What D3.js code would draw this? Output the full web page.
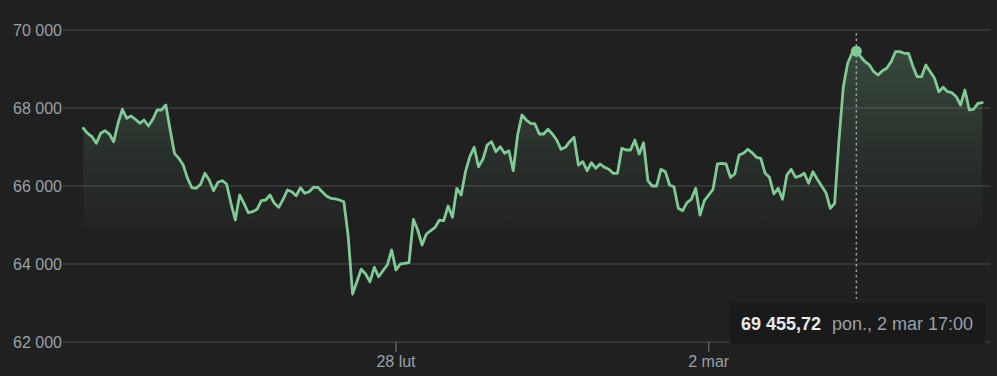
<!DOCTYPE html>
<html><head><meta charset="utf-8">
<script src="https://cdn.jsdelivr.net/npm/d3@7"></script>
<style>
html,body{margin:0;padding:0;background:#202020;}
svg{display:block;}
text{font-family:Arial,"Liberation Sans",sans-serif;}
</style></head>
<body>
<svg id="chart" width="997" height="376"></svg>
<script>
// ---- data ----
const prices = [
67480,67351,67264,67095,67351,67418,67333,67136,67608,67967,67736,67795,67710,67608,67692,67538,67710,67949,67949,68077,
67436,66838,66710,66538,66197,65956,65941,66044,
66326,66154,65880,66095,66136,66051,65556,65128,65769,65556,65315,65341,65403,65623,65641,65769,65556,65454,65659,65897,
65854,65751,65956,65813,65854,65967,65967,65854,
65744,65685,65667,65641,65597,64700,63231,63546,63864,63744,63546,63915,63674,63828,63974,64359,63846,64000,64018,64033,
65146,64872,64487,64769,64854,64941,65128,65110,65487,65197,65941,
65769,66367,66751,66992,66495,66685,67051,67136,66880,67008,66838,66905,66392,67308,67820,67692,67608,67590,67333,67333,
67454,67333,67179,66941,66992,67136,67249,
66538,66623,66392,66597,66454,66564,66479,66428,66326,66326,66967,66923,66923,67179,66820,67110,66136,66000,66000,66428,
66367,66026,65982,65428,65367,65572,65659,65941,65256,
65623,65769,65915,66564,66582,66564,66223,66308,66795,66838,66941,66854,66736,66710,66326,66223,65795,65941,65659,66282,
66428,66223,66256,66326,66069,66367,66172,66000,65828,65428,65556,
67179,68546,69146,69403,69455.72,69315,69187,69103,68931,68846,68956,69018,69187,69444,69444,69403,69403,69077,68803,68803,
69103,68931,68762,68418,68531,68418,68392,68290,68077,68462,67949,67967,68120,68136
];
const yTicks = [62000, 64000, 66000, 68000, 70000];
const xTickIndex = [72, 144];
const xTickLabels = ["28 lut", "2 mar"];
const hoverIndex = 178;
const hoverValueLabel = "69 455,72";
const hoverDateLabel = "pon., 2 mar 17:00";

// ---- chart ----
const W = 997, H = 376;
const svg = d3.select("#chart");
svg.append("rect").attr("width", W).attr("height", H).attr("fill", "#202020");

const x = d3.scaleLinear().domain([0, prices.length - 1]).range([83.3, 982.3]);
const y = d3.scaleLinear().domain([62000, 70000]).range([342, 30]);

const plFmt = d3.formatLocale({decimal: ",", thousands: "\u00a0", grouping: [3], currency: ["", " zł"]}).format(",.0f");

const gridLeft = 63, gridRight = 990;

// gradient
const defs = svg.append("defs");
const grad = defs.append("linearGradient").attr("id", "fillGrad")
  .attr("gradientUnits", "userSpaceOnUse").attr("x1", 0).attr("x2", 0).attr("y1", 45).attr("y2", 230);
grad.append("stop").attr("offset", 0).attr("stop-color", "#81c995").attr("stop-opacity", 0.25);
grad.append("stop").attr("offset", 0.6).attr("stop-color", "#81c995").attr("stop-opacity", 0.09);
grad.append("stop").attr("offset", 0.97).attr("stop-color", "#81c995").attr("stop-opacity", 0.025);
grad.append("stop").attr("offset", 1).attr("stop-color", "#81c995").attr("stop-opacity", 0);

// y grid + labels
const yAxis = svg.append("g");
yTicks.forEach(t => {
  yAxis.append("line").attr("x1", gridLeft).attr("x2", gridRight)
    .attr("y1", y(t)).attr("y2", y(t)).attr("stroke", "#3c3d40").attr("stroke-width", 1.5);
  yAxis.append("text").attr("x", 62).attr("y", y(t)).attr("dy", "0.36em")
    .attr("text-anchor", "end").attr("fill", "#9aa0a6").attr("font-size", 16).text(plFmt(t));
});

// area + line
const area = d3.area().x((d, i) => x(i)).y0(y(62000)).y1(d => y(d));
svg.append("path").datum(prices).attr("d", area).attr("fill", "url(#fillGrad)");
const line = d3.line().x((d, i) => x(i)).y(d => y(d));
svg.append("path").datum(prices).attr("d", line).attr("fill", "none")
  .attr("stroke", "#81c995").attr("stroke-width", 2.8).attr("stroke-linejoin", "round").attr("stroke-linecap", "round");

// x ticks
const xAxis = svg.append("g");
xTickIndex.forEach((t, k) => {
  xAxis.append("line").attr("x1", x(t)).attr("x2", x(t)).attr("y1", 342).attr("y2", 352)
    .attr("stroke", "#5f6368").attr("stroke-width", 1.5);
  xAxis.append("text").attr("x", x(t)).attr("y", 367).attr("text-anchor", "middle")
    .attr("fill", "#9aa0a6").attr("font-size", 16).text(xTickLabels[k]);
});

// hover
const hx = x(hoverIndex);
svg.append("line").attr("x1", hx).attr("x2", hx).attr("y1", 33).attr("y2", 299)
  .attr("stroke", "#9aa0a6").attr("stroke-width", 1.5).attr("stroke-dasharray", "2.5,3");
svg.append("circle").attr("cx", hx).attr("cy", y(prices[hoverIndex])).attr("r", 5.5).attr("fill", "#81c995");

// tooltip
const tip = svg.append("g");
tip.append("rect").attr("x", 730).attr("y", 303).attr("width", 255).attr("height", 41)
  .attr("rx", 2).attr("fill", "#1a1a1a");
tip.append("text").attr("x", 741).attr("y", 330).attr("fill", "#e8eaed").attr("font-size", 18)
  .attr("font-weight", "bold").text(hoverValueLabel);
tip.append("text").attr("x", 832).attr("y", 330).attr("fill", "#9aa0a6").attr("font-size", 18)
  .text(hoverDateLabel);
</script>
</body></html>
